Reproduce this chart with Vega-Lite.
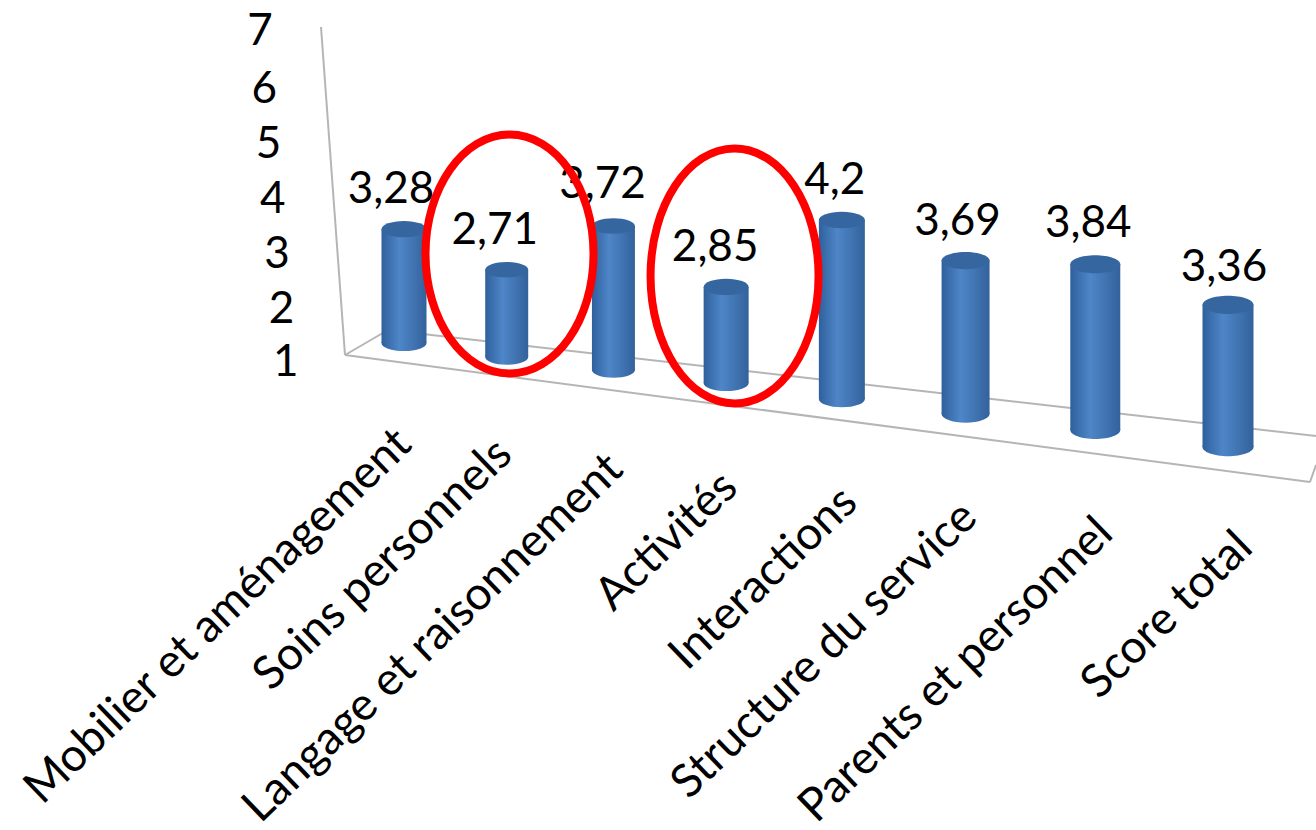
{"$schema":"https://vega.github.io/schema/vega-lite/v6.json","width":1316,"height":830,"padding":0,"autosize":{"type":"none"},"background":"white","view":{"stroke":null},"config":{"text":{"font":"Lato","color":"black"},"axis":{"labelFont":"Lato"}},
"data":{"values":[{"category":"Mobilier et aménagement","value":3.28,"label":"3,28"},{"category":"Soins personnels","value":2.71,"label":"2,71"},{"category":"Langage et raisonnement","value":3.72,"label":"3,72"},{"category":"Activités","value":2.85,"label":"2,85"},{"category":"Interactions","value":4.2,"label":"4,2"},{"category":"Structure du service","value":3.69,"label":"3,69"},{"category":"Parents et personnel","value":3.84,"label":"3,84"},{"category":"Score total","value":3.36,"label":"3,36"}]},
"encoding":{"x":{"field":"category","type":"nominal","sort":null,"axis":null,"scale":{"type":"point","padding":0,"domain":["Mobilier et aménagement","Soins personnels","Langage et raisonnement","Activités","Interactions","Structure du service","Parents et personnel","Score total"],"range":[404,1228]}},"y":{"field":"value","type":"quantitative","scale":{"domain":[1,7],"range":[362,31],"nice":false,"zero":false},"axis":{"title":null,"values":[1,2,3,4,5,6,7],"grid":false,"domain":false,"ticks":false,"labelFontSize":44,"labelColor":"black","labelPadding":2,"offset":-300,"labelOverlap":false,"encoding":{"labels":{"dx":{"value":{"signal":"(datum.value-1)*-4.3"}},"dy":{"value":{"signal":"datum.value==1||datum.value==7?0:3"}}}}}}},
"layer":[
{"transform":[{"filter":"datum.category==='Score total'"}],"layer":[
{"mark":{"type":"rule","color":"#b5b5b5","strokeWidth":2,"xOffset":-83,"x2Offset":-59,"yOffset":-4,"y2Offset":-7},"encoding":{"x":{"datum":"Mobilier et aménagement"},"x2":{"datum":"Mobilier et aménagement"},"y":{"datum":7},"y2":{"datum":1}}},
{"mark":{"type":"rule","color":"#b5b5b5","strokeWidth":2,"xOffset":-59,"x2Offset":82,"yOffset":-7,"y2Offset":120},"encoding":{"x":{"datum":"Mobilier et aménagement"},"x2":{"datum":"Score total"},"y":{"datum":1},"y2":{"datum":1}}},
{"mark":{"type":"rule","color":"#b5b5b5","strokeWidth":2,"xOffset":-59,"x2Offset":-16,"yOffset":-7,"y2Offset":-32},"encoding":{"x":{"datum":"Mobilier et aménagement"},"x2":{"datum":"Mobilier et aménagement"},"y":{"datum":1},"y2":{"datum":1}}},
{"mark":{"type":"rule","color":"#b5b5b5","strokeWidth":2,"xOffset":-16,"x2Offset":88,"yOffset":-32,"y2Offset":74},"encoding":{"x":{"datum":"Mobilier et aménagement"},"x2":{"datum":"Score total"},"y":{"datum":1},"y2":{"datum":1}}},
{"mark":{"type":"rule","color":"#b5b5b5","strokeWidth":2,"xOffset":82,"x2Offset":88,"yOffset":120,"y2Offset":103},"encoding":{"x":{"datum":"Score total"},"x2":{"datum":"Score total"},"y":{"datum":1},"y2":{"datum":1}}}
]},
{"transform":[{"filter":"datum.category==='Mobilier et aménagement'"}],"layer":[
{"mark":{"type":"bar","width":45,"xOffset":0,"yOffset":-7,"y2Offset":-19,"fill":{"x1":0,"x2":1,"y1":0,"y2":0,"gradient":"linear","stops":[{"offset":0,"color":"#2f609c"},{"offset":0.4,"color":"#4e86c8"},{"offset":1,"color":"#33629c"}]}},"encoding":{"y2":{"datum":1}}},
{"mark":{"type":"point","filled":true,"opacity":1,"xOffset":0,"yOffset":-19,"size":2025,"shape":"M-1,0A1,0.36 0 1 1 1,0A1,0.36 0 1 1 -1,0Z","fill":{"x1":0,"x2":1,"y1":0,"y2":0,"gradient":"linear","stops":[{"offset":0,"color":"#2f609c"},{"offset":0.4,"color":"#4e86c8"},{"offset":1,"color":"#33629c"}]}},"encoding":{"y":{"datum":1}}},
{"mark":{"type":"point","filled":true,"opacity":1,"xOffset":0,"yOffset":-7,"size":2025,"shape":"M-1,0A1,0.36 0 1 1 1,0A1,0.36 0 1 1 -1,0Z","fill":"#35669f"}},
{"mark":{"type":"text","fontSize":44,"baseline":"middle","align":"center","xOffset":-13,"yOffset":-46},"encoding":{"text":{"field":"label"}}},
{"mark":{"type":"text","fontSize":46,"angle":316,"align":"right","baseline":"middle","xOffset":0,"yOffset":75},"encoding":{"y":{"datum":1},"text":{"field":"category"}}}
]},
{"transform":[{"filter":"datum.category==='Soins personnels'"}],"layer":[
{"mark":{"type":"bar","width":43,"xOffset":-15,"yOffset":2,"y2Offset":-5,"fill":{"x1":0,"x2":1,"y1":0,"y2":0,"gradient":"linear","stops":[{"offset":0,"color":"#2f609c"},{"offset":0.4,"color":"#4e86c8"},{"offset":1,"color":"#33629c"}]}},"encoding":{"y2":{"datum":1}}},
{"mark":{"type":"point","filled":true,"opacity":1,"xOffset":-15,"yOffset":-5,"size":1849,"shape":"M-1,0A1,0.36 0 1 1 1,0A1,0.36 0 1 1 -1,0Z","fill":{"x1":0,"x2":1,"y1":0,"y2":0,"gradient":"linear","stops":[{"offset":0,"color":"#2f609c"},{"offset":0.4,"color":"#4e86c8"},{"offset":1,"color":"#33629c"}]}},"encoding":{"y":{"datum":1}}},
{"mark":{"type":"point","filled":true,"opacity":1,"xOffset":-15,"yOffset":2,"size":1849,"shape":"M-1,0A1,0.36 0 1 1 1,0A1,0.36 0 1 1 -1,0Z","fill":"#35669f"}},
{"mark":{"type":"text","fontSize":44,"baseline":"middle","align":"center","xOffset":-27,"yOffset":-37},"encoding":{"text":{"field":"label"}}},
{"mark":{"type":"text","fontSize":46,"angle":316,"align":"right","baseline":"middle","xOffset":-17,"yOffset":85},"encoding":{"y":{"datum":1},"text":{"field":"category"}}}
]},
{"transform":[{"filter":"datum.category==='Langage et raisonnement'"}],"layer":[
{"mark":{"type":"bar","width":43,"xOffset":-26,"yOffset":14,"y2Offset":8,"fill":{"x1":0,"x2":1,"y1":0,"y2":0,"gradient":"linear","stops":[{"offset":0,"color":"#2f609c"},{"offset":0.4,"color":"#4e86c8"},{"offset":1,"color":"#33629c"}]}},"encoding":{"y2":{"datum":1}}},
{"mark":{"type":"point","filled":true,"opacity":1,"xOffset":-26,"yOffset":8,"size":1849,"shape":"M-1,0A1,0.36 0 1 1 1,0A1,0.36 0 1 1 -1,0Z","fill":{"x1":0,"x2":1,"y1":0,"y2":0,"gradient":"linear","stops":[{"offset":0,"color":"#2f609c"},{"offset":0.4,"color":"#4e86c8"},{"offset":1,"color":"#33629c"}]}},"encoding":{"y":{"datum":1}}},
{"mark":{"type":"point","filled":true,"opacity":1,"xOffset":-26,"yOffset":14,"size":1849,"shape":"M-1,0A1,0.36 0 1 1 1,0A1,0.36 0 1 1 -1,0Z","fill":"#35669f"}},
{"mark":{"type":"text","fontSize":44,"baseline":"middle","align":"center","xOffset":-37,"yOffset":-27},"encoding":{"text":{"field":"label"}}},
{"mark":{"type":"text","fontSize":46,"angle":316,"align":"right","baseline":"middle","xOffset":-24,"yOffset":100},"encoding":{"y":{"datum":1},"text":{"field":"category"}}}
]},
{"transform":[{"filter":"datum.category==='Activités'"}],"layer":[
{"mark":{"type":"bar","width":45,"xOffset":-31,"yOffset":27,"y2Offset":21,"fill":{"x1":0,"x2":1,"y1":0,"y2":0,"gradient":"linear","stops":[{"offset":0,"color":"#2f609c"},{"offset":0.4,"color":"#4e86c8"},{"offset":1,"color":"#33629c"}]}},"encoding":{"y2":{"datum":1}}},
{"mark":{"type":"point","filled":true,"opacity":1,"xOffset":-31,"yOffset":21,"size":2025,"shape":"M-1,0A1,0.36 0 1 1 1,0A1,0.36 0 1 1 -1,0Z","fill":{"x1":0,"x2":1,"y1":0,"y2":0,"gradient":"linear","stops":[{"offset":0,"color":"#2f609c"},{"offset":0.4,"color":"#4e86c8"},{"offset":1,"color":"#33629c"}]}},"encoding":{"y":{"datum":1}}},
{"mark":{"type":"point","filled":true,"opacity":1,"xOffset":-31,"yOffset":27,"size":2025,"shape":"M-1,0A1,0.36 0 1 1 1,0A1,0.36 0 1 1 -1,0Z","fill":"#35669f"}},
{"mark":{"type":"text","fontSize":44,"baseline":"middle","align":"center","xOffset":-42,"yOffset":-12},"encoding":{"text":{"field":"label"}}},
{"mark":{"type":"text","fontSize":46,"angle":316,"align":"right","baseline":"middle","xOffset":-27,"yOffset":118},"encoding":{"y":{"datum":1},"text":{"field":"category"}}}
]},
{"transform":[{"filter":"datum.category==='Interactions'"}],"layer":[
{"mark":{"type":"bar","width":46,"xOffset":-33,"yOffset":34.5,"y2Offset":37,"fill":{"x1":0,"x2":1,"y1":0,"y2":0,"gradient":"linear","stops":[{"offset":0,"color":"#2f609c"},{"offset":0.4,"color":"#4e86c8"},{"offset":1,"color":"#33629c"}]}},"encoding":{"y2":{"datum":1}}},
{"mark":{"type":"point","filled":true,"opacity":1,"xOffset":-33,"yOffset":37,"size":2116,"shape":"M-1,0A1,0.36 0 1 1 1,0A1,0.36 0 1 1 -1,0Z","fill":{"x1":0,"x2":1,"y1":0,"y2":0,"gradient":"linear","stops":[{"offset":0,"color":"#2f609c"},{"offset":0.4,"color":"#4e86c8"},{"offset":1,"color":"#33629c"}]}},"encoding":{"y":{"datum":1}}},
{"mark":{"type":"point","filled":true,"opacity":1,"xOffset":-33,"yOffset":34.5,"size":2116,"shape":"M-1,0A1,0.36 0 1 1 1,0A1,0.36 0 1 1 -1,0Z","fill":"#35669f"}},
{"mark":{"type":"text","fontSize":44,"baseline":"middle","align":"center","xOffset":-40,"yOffset":-4.5},"encoding":{"text":{"field":"label"}}},
{"mark":{"type":"text","fontSize":46,"angle":316,"align":"right","baseline":"middle","xOffset":-25,"yOffset":133},"encoding":{"y":{"datum":1},"text":{"field":"category"}}}
]},
{"transform":[{"filter":"datum.category==='Structure du service'"}],"layer":[
{"mark":{"type":"bar","width":48,"xOffset":-27,"yOffset":47,"y2Offset":52,"fill":{"x1":0,"x2":1,"y1":0,"y2":0,"gradient":"linear","stops":[{"offset":0,"color":"#2f609c"},{"offset":0.4,"color":"#4e86c8"},{"offset":1,"color":"#33629c"}]}},"encoding":{"y2":{"datum":1}}},
{"mark":{"type":"point","filled":true,"opacity":1,"xOffset":-27,"yOffset":52,"size":2304,"shape":"M-1,0A1,0.36 0 1 1 1,0A1,0.36 0 1 1 -1,0Z","fill":{"x1":0,"x2":1,"y1":0,"y2":0,"gradient":"linear","stops":[{"offset":0,"color":"#2f609c"},{"offset":0.4,"color":"#4e86c8"},{"offset":1,"color":"#33629c"}]}},"encoding":{"y":{"datum":1}}},
{"mark":{"type":"point","filled":true,"opacity":1,"xOffset":-27,"yOffset":47,"size":2304,"shape":"M-1,0A1,0.36 0 1 1 1,0A1,0.36 0 1 1 -1,0Z","fill":"#35669f"}},
{"mark":{"type":"text","fontSize":44,"baseline":"middle","align":"center","xOffset":-35,"yOffset":8},"encoding":{"text":{"field":"label"}}},
{"mark":{"type":"text","fontSize":46,"angle":316,"align":"right","baseline":"middle","xOffset":-23,"yOffset":148},"encoding":{"y":{"datum":1},"text":{"field":"category"}}}
]},
{"transform":[{"filter":"datum.category==='Parents et personnel'"}],"layer":[
{"mark":{"type":"bar","width":50,"xOffset":-15,"yOffset":59,"y2Offset":68,"fill":{"x1":0,"x2":1,"y1":0,"y2":0,"gradient":"linear","stops":[{"offset":0,"color":"#2f609c"},{"offset":0.4,"color":"#4e86c8"},{"offset":1,"color":"#33629c"}]}},"encoding":{"y2":{"datum":1}}},
{"mark":{"type":"point","filled":true,"opacity":1,"xOffset":-15,"yOffset":68,"size":2500,"shape":"M-1,0A1,0.36 0 1 1 1,0A1,0.36 0 1 1 -1,0Z","fill":{"x1":0,"x2":1,"y1":0,"y2":0,"gradient":"linear","stops":[{"offset":0,"color":"#2f609c"},{"offset":0.4,"color":"#4e86c8"},{"offset":1,"color":"#33629c"}]}},"encoding":{"y":{"datum":1}}},
{"mark":{"type":"point","filled":true,"opacity":1,"xOffset":-15,"yOffset":59,"size":2500,"shape":"M-1,0A1,0.36 0 1 1 1,0A1,0.36 0 1 1 -1,0Z","fill":"#35669f"}},
{"mark":{"type":"text","fontSize":44,"baseline":"middle","align":"center","xOffset":-22,"yOffset":19},"encoding":{"text":{"field":"label"}}},
{"mark":{"type":"text","fontSize":46,"angle":316,"align":"right","baseline":"middle","xOffset":-5,"yOffset":164},"encoding":{"y":{"datum":1},"text":{"field":"category"}}}
]},
{"transform":[{"filter":"datum.category==='Score total'"}],"layer":[
{"mark":{"type":"bar","width":51,"xOffset":0,"yOffset":73,"y2Offset":85,"fill":{"x1":0,"x2":1,"y1":0,"y2":0,"gradient":"linear","stops":[{"offset":0,"color":"#2f609c"},{"offset":0.4,"color":"#4e86c8"},{"offset":1,"color":"#33629c"}]}},"encoding":{"y2":{"datum":1}}},
{"mark":{"type":"point","filled":true,"opacity":1,"xOffset":0,"yOffset":85,"size":2601,"shape":"M-1,0A1,0.36 0 1 1 1,0A1,0.36 0 1 1 -1,0Z","fill":{"x1":0,"x2":1,"y1":0,"y2":0,"gradient":"linear","stops":[{"offset":0,"color":"#2f609c"},{"offset":0.4,"color":"#4e86c8"},{"offset":1,"color":"#33629c"}]}},"encoding":{"y":{"datum":1}}},
{"mark":{"type":"point","filled":true,"opacity":1,"xOffset":0,"yOffset":73,"size":2601,"shape":"M-1,0A1,0.36 0 1 1 1,0A1,0.36 0 1 1 -1,0Z","fill":"#35669f"}},
{"mark":{"type":"text","fontSize":44,"baseline":"middle","align":"center","xOffset":-4,"yOffset":36},"encoding":{"text":{"field":"label"}}},
{"mark":{"type":"text","fontSize":46,"angle":316,"align":"right","baseline":"middle","xOffset":17,"yOffset":178},"encoding":{"y":{"datum":1},"text":{"field":"category"}}}
]},
{"transform":[{"filter":"datum.category==='Soins personnels'"}],"mark":{"type":"point","filled":false,"opacity":1,"stroke":"#ff0000","strokeWidth":8,"xOffset":-12.2,"yOffset":-13.7,"size":28224,"shape":"M-1,0A1,1.423 0 1 1 1,0A1,1.423 0 1 1 -1,0Z"}},
{"transform":[{"filter":"datum.category==='Activités'"}],"mark":{"type":"point","filled":false,"opacity":1,"stroke":"#ff0000","strokeWidth":8,"xOffset":-22.6,"yOffset":16,"size":28224,"shape":"M-1,0A1,1.518 0 1 1 1,0A1,1.518 0 1 1 -1,0Z"}}
]}
